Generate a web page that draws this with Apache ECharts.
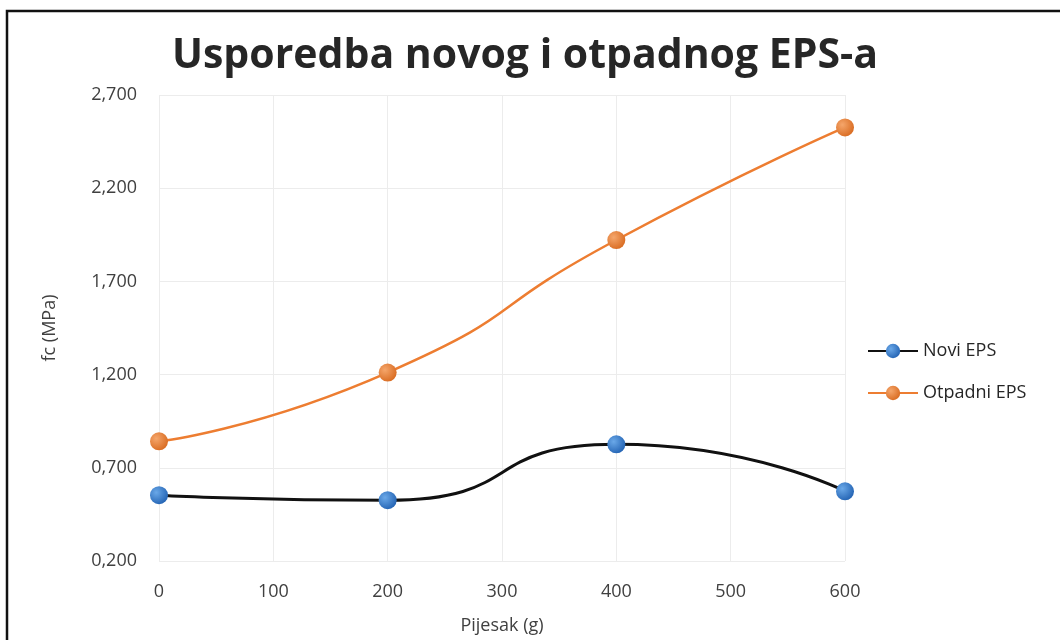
<!DOCTYPE html>
<html><head><meta charset="utf-8">
<script src="https://cdn.jsdelivr.net/npm/echarts@6/dist/echarts.min.js"></script>
<style>html,body{margin:0;padding:0;background:#fff}#c{width:1060px;height:640px}</style>
</head><body><div id="c"></div>
<script>
const sandX = [0, 200, 400, 600];
const noviEPS = [0.553, 0.526, 0.826, 0.574];
const otpadniEPS = [0.842, 1.211, 1.922, 2.526];
const seriesNames = ['Novi EPS', 'Otpadni EPS'];

const chart = echarts.init(document.getElementById('c'));
const font = 'Open Sans';
function fmt(v){ return v.toFixed(3).replace('.', ','); }
chart.setOption({
  backgroundColor: '#fff',
  animation: false,
  title: {
    text: 'Usporedba novog i otpadnog EPS-a',
    left: 520, top: 31, textAlign: 'center',
    textStyle: { fontFamily: font, fontWeight: 'bold', fontSize: 41, color: '#262626' }
  },
  graphic: [{
    type: 'rect', shape: { x: 7, y: 11, width: 1060, height: 640 },
    style: { fill: 'none', stroke: '#111', lineWidth: 2.5 }, silent: true
  }],
  legend: {
    orient: 'vertical', left: 862, top: 337, itemGap: 24,
    itemWidth: 50, itemHeight: 18,
    textStyle: { fontFamily: font, fontSize: 18, color: '#262626' },
    data: seriesNames
  },
  grid: { left: 159, right: 215, top: 95, bottom: 78 },
  xAxis: {
    type: 'value', min: 0, max: 600, interval: 100,
    name: 'Pijesak (g)', nameLocation: 'middle', nameGap: 56,
    nameTextStyle: { fontFamily: font, fontSize: 18, color: '#404040' },
    axisLine: { show: false }, axisTick: { show: false },
    axisLabel: { fontFamily: font, fontSize: 18, color: '#404040', margin: 22 },
    splitLine: { show: true, lineStyle: { color: '#ececec', width: 1 } }
  },
  yAxis: {
    type: 'value', min: 0.2, max: 2.7, interval: 0.5,
    name: 'fc (MPa)', nameLocation: 'middle', nameGap: 100,
    nameTextStyle: { fontFamily: font, fontSize: 18, color: '#404040' },
    axisLine: { show: false }, axisTick: { show: false },
    axisLabel: { fontFamily: font, fontSize: 18, color: '#404040', margin: 22, formatter: fmt },
    splitLine: { show: true, lineStyle: { color: '#ececec', width: 1 } }
  },
  series: [
    {
      name: seriesNames[0], type: 'line', smooth: 0.6,
      data: sandX.map((x, i) => [x, noviEPS[i]]),
      symbol: 'circle', symbolSize: 18,
      lineStyle: { color: '#111', width: 3 },
      itemStyle: { color: new echarts.graphic.RadialGradient(0.35, 0.35, 0.7, [
        { offset: 0, color: '#6aa8e8' }, { offset: 1, color: '#2464b4' }]) , borderWidth: 0 },
      z: 3
    },
    {
      name: seriesNames[1], type: 'line', smooth: 0.6,
      data: sandX.map((x, i) => [x, otpadniEPS[i]]),
      symbol: 'circle', symbolSize: 18,
      lineStyle: { color: '#ed7d31', width: 2.5 },
      itemStyle: { color: new echarts.graphic.RadialGradient(0.35, 0.35, 0.7, [
        { offset: 0, color: '#f5a66b' }, { offset: 1, color: '#d96c22' }]), borderWidth: 0 },
      z: 2
    }
  ]
});
</script></body></html>
